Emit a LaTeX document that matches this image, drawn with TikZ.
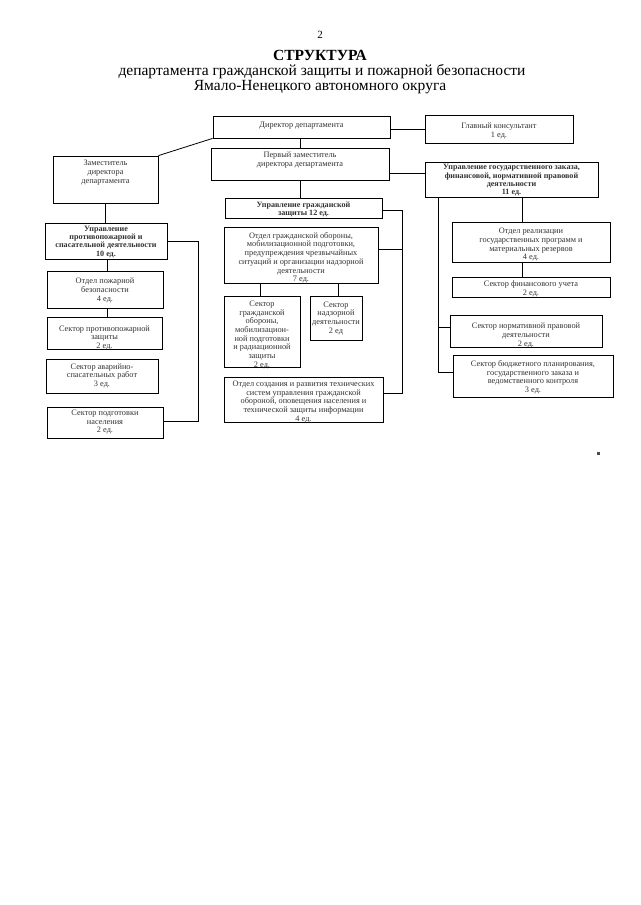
\documentclass[tikz,border=0pt]{standalone}
\usepackage{fontspec}
\setmainfont{Liberation Serif}
\usetikzlibrary{fit,calc}
\newcommand\ob[8][txt]{%
 \node[box, fit={(#3,#4) (#5,#6)}] (#2) {};
 \node[#1] (#2-t) at ({(#3+#5)/2},{#7+1.8}) {#8};}
\begin{document}
\begin{tikzpicture}[x=1pt,y=-1pt,
 box/.style={draw, line width=0.8pt, inner sep=0pt},
 txt/.style={align=center, font=\fontsize{8.3}{8.7}\selectfont, inner sep=0pt, text=black!80},
 btxt/.style={txt, font=\fontsize{8.1}{8.2}\selectfont\bfseries},
 con/.style={line width=0.8pt}]
\fill[white] (0,0) rectangle (640,905);
\useasboundingbox (0,0) rectangle (640,905);
% title
\node[font=\fontsize{11}{12}\selectfont] (t0) at (320,35) {2};
\node[font=\fontsize{15.5}{16}\selectfont\bfseries] (t1) at (320,55.5) {СТРУКТУРА};
\node[font=\fontsize{15.5}{16}\selectfont] (t2) at (322,72) {департамента гражданской защиты и пожарной безопасности};
\node[font=\fontsize{15.5}{16}\selectfont] (t3) at (320,87) {Ямало-Ненецкого автономного округа};
% boxes
\ob{dir}{213}{116}{390}{138}{124}{Директор департамента}
\ob{cons}{425}{115}{573}{143}{129.5}{Главный консультант\\1 ед.}
\ob{fd}{211}{148}{389}{180}{158}{Первый заместитель\\директора департамента}
\ob{dep}{53}{156}{158}{203}{171}{Заместитель\\директора\\департамента}
\ob[btxt]{ugz}{425}{162}{598}{197}{178.5}{Управление государственного заказа,\\финансовой, нормативной правовой\\деятельности\\11 ед.}
\ob[btxt]{ugr}{225}{198}{382}{218}{208}{Управление гражданской\\защиты 12 ед.}
\ob[btxt]{upr}{45}{223}{167}{259}{240}{Управление\\противопожарной и\\спасательной деятельности\\10 ед.}
\ob{opb}{47}{271}{163}{308}{288.5}{Отдел пожарной\\безопасности\\4 ед.}
\ob{spz}{47}{317}{162}{349}{336}{Сектор противопожарной\\защиты\\2 ед.}
\ob{sas}{46}{359}{158}{393}{374}{Сектор аварийно-\\спасательных работ\\3 ед.}
\ob{spn}{47}{407}{163}{438}{420.5}{Сектор подготовки\\населения\\2 ед.}
\ob{ogo}{224}{227}{378}{283}{256}{Отдел гражданской обороны,\\мобилизационной подготовки,\\предупреждения чрезвычайных\\ситуаций и организации надзорной\\деятельности\\7 ед.}
\ob{sgo}{224}{296}{300}{367}{333}{Сектор\\гражданской\\обороны,\\мобилизацион-\\ной подготовки\\и радиационной\\защиты\\2 ед.}
\ob{snd}{310}{296}{362}{340}{316.5}{Сектор\\надзорной\\деятельности\\2 ед}
\ob{osr}{224}{377}{383}{422}{400}{Отдел создания и развития технических\\систем управления гражданской\\обороной, оповещения населения и\\технической защиты информации\\4 ед.}
\ob{orz}{452}{222}{610}{262}{243}{Отдел реализации\\государственных программ и\\материальных резервов\\4 ед.}
\ob{sfu}{452}{277}{610}{297}{287}{Сектор финансового учета\\2 ед.}
\ob{snp}{450}{315}{602}{347}{333.5}{Сектор нормативной правовой\\деятельности\\2 ед.}
\ob{sbp}{453}{355}{613}{397}{375.5}{Сектор бюджетного планирования,\\государственного заказа и\\ведомственного контроля\\3 ед.}
% helper coordinates
\coordinate (busL) at (198,0);
\coordinate (busM) at (402,0);
\coordinate (busR) at (438,0);
\coordinate (xr) at (522,0);
% connectors
\draw[con] (dir.east |- 0,129) -- (cons.west |- 0,129);
\draw[con] (dir.south -| 300,0) -- (fd.north -| 300,0);
\draw[con] (dep.north east) -- (dir.south west);
\draw[con] (fd.east |- 0,173) -- (ugz.west |- 0,173);
\draw[con] (fd.south -| 300,0) -- (ugr.north -| 300,0);
\draw[con] (dep.south -| 105,0) -- (upr.north -| 105,0);
\draw[con] (upr.south -| 107,0) -- (opb.north -| 107,0);
\draw[con] (opb.south -| 107,0) -- (spz.north -| 107,0);
\draw[con] (upr.east |- 0,241) -- (busL |- 0,241) -- (busL |- 0,421) -- (spn.east |- 0,421);
\draw[con] (ugr.east |- 0,210) -- (busM |- 0,210) -- (busM |- 0,393) -- (osr.east |- 0,393);
\draw[con] (ogo.east |- 0,249) -- (busM |- 0,249);
\draw[con] (ogo.south -| 260,0) -- (sgo.north -| 260,0);
\draw[con] (ogo.south -| 338,0) -- (snd.north -| 338,0);
\draw[con] (xr |- ugz.south) -- (xr |- orz.north);
\draw[con] (xr |- orz.south) -- (xr |- sfu.north);
\draw[con] (busR |- ugz.south) -- (busR |- 0,372) -- (sbp.west |- 0,372);
\draw[con] (busR |- 0,327) -- (snp.west |- 0,327);
% small mark
\fill[black!70] (597,452) rectangle (599.5,454.5);
\end{tikzpicture}
\end{document}
